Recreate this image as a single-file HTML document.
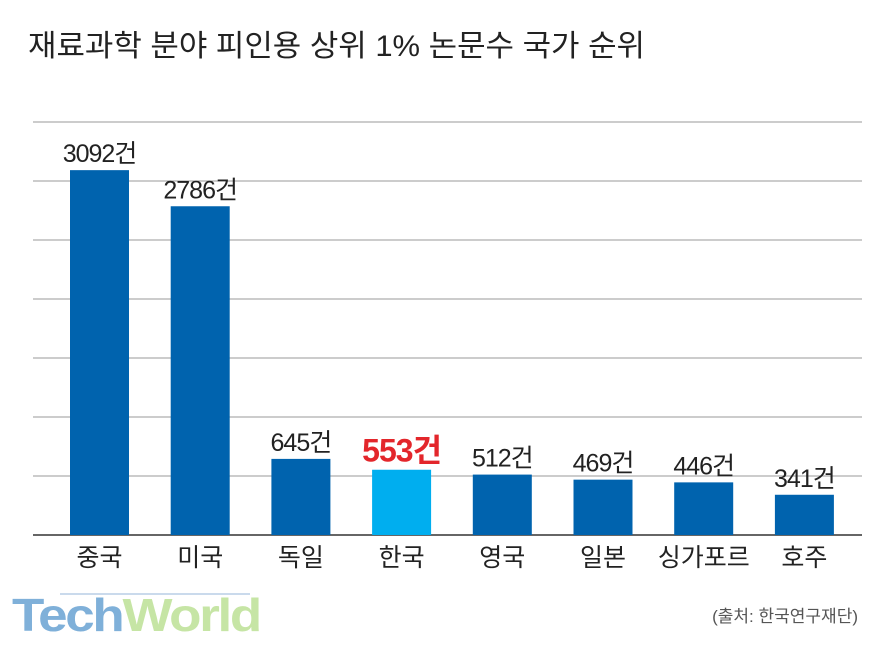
<!DOCTYPE html>
<html><head><meta charset="utf-8"><style>
body{margin:0;width:891px;height:648px;background:#fff;overflow:hidden;font-family:"Liberation Sans","Noto Sans CJK KR",sans-serif}
</style></head><body>
<svg width="891" height="648" xmlns="http://www.w3.org/2000/svg">
<text x="28" y="56" font-size="30" textLength="617" lengthAdjust="spacingAndGlyphs" fill="#222" font-family="Liberation Sans, Noto Sans CJK KR, sans-serif">재료과학 분야 피인용 상위 1% 논문수 국가 순위</text>
<g id="grid"></g><g id="bars"></g><g id="labels"></g>
<g>
<line x1="60" y1="594" x2="250" y2="594" stroke="#b8cde6" stroke-width="1.5"/>
<text x="12" y="631" font-size="46" font-weight="bold" font-family="Liberation Sans, sans-serif" letter-spacing="-2" textLength="248" lengthAdjust="spacingAndGlyphs"><tspan fill="#7fb0d9">Tech</tspan><tspan fill="#c6e5a5">World</tspan></text>
</g>
<text x="858" y="622" font-size="17" fill="#555" text-anchor="end" font-family="Liberation Sans, Noto Sans CJK KR, sans-serif">(출처: 한국연구재단)</text>
</svg>
<script>
const categories=["중국","미국","독일","한국","영국","일본","싱가포르","호주"];
const values=[3092,2786,645,553,512,469,446,341];
const valueLabels=["3092건","2786건","645건","553건","512건","469건","446건","341건"];
const gridTicks=[500,1000,1500,2000,2500,3000,3500];
const NS="http://www.w3.org/2000/svg";
const y=v=>535-v*413/3500;
const x=i=>99.5+i*100.7;
function mk(tag,attrs,parent){const e=document.createElementNS(NS,tag);for(const k in attrs)e.setAttribute(k,attrs[k]);document.getElementById(parent).appendChild(e);return e;}
gridTicks.forEach(t=>{
 const l=mk('line',{x1:33,x2:862,y1:y(t),y2:y(t),stroke:'#999','stroke-width':1},'grid');
 
 
});
const base=mk('line',{x1:33,x2:862,y1:535,y2:535,stroke:'#333','stroke-width':1.5},'grid');


values.forEach((v,i)=>{
 const hl=categories[i]==="한국";
 const r=mk('rect',{x:x(i)-29.5,y:y(v),width:59,height:535-y(v),fill:hl?'#00aeef':'#0063ae'},'bars');
 
 
 const t=mk('text',{x:x(i),y:y(v)-8,'text-anchor':'middle','font-size':hl?32:25,fill:hl?'#e3262b':'#222','font-weight':hl?'bold':'normal','letter-spacing':-1},'labels');
 t.textContent=valueLabels[i];
 
 
 const c=mk('text',{x:x(i),y:566,'text-anchor':'middle','font-size':25,fill:'#222'},'labels');
 c.textContent=categories[i];
 
 
});
</script>
</body></html>
